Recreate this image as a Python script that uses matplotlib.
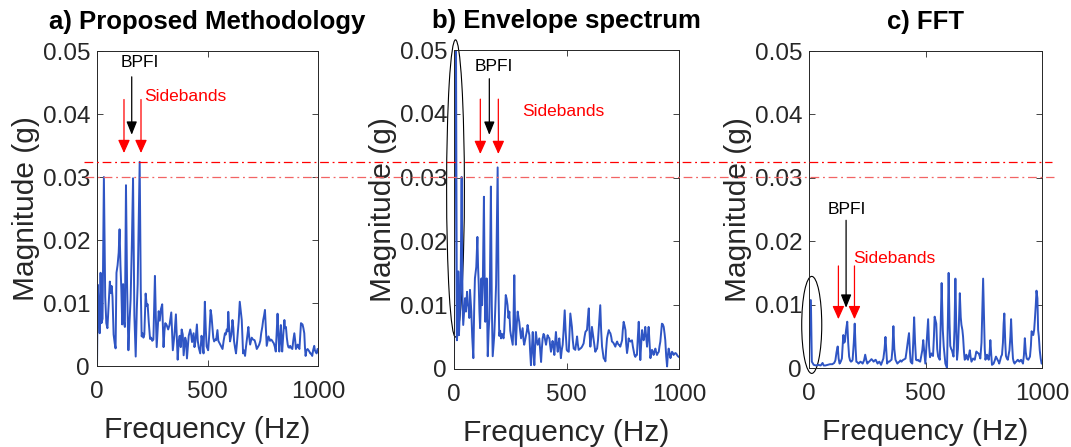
import matplotlib
matplotlib.use("Agg")
import matplotlib.pyplot as plt
import matplotlib.transforms as mtransforms
from matplotlib.lines import Line2D
from matplotlib.patches import Ellipse

plt.rcParams['font.family'] = ['Liberation Sans', 'DejaVu Sans']

# a) proposed methodology spectrum
freq_a = [0, 3, 8, 12, 16, 20, 25, 31, 37, 42, 47, 53, 58, 62, 66, 70, 75, 80, 84, 88,
          93, 98, 102, 106, 110, 114, 118, 122, 126, 131, 136, 142, 147, 152, 158, 163, 169, 175, 180, 184,
          193, 198, 202, 206, 210, 214, 220, 225, 229, 234, 240, 245, 250, 255, 262, 266, 270, 275, 279, 284,
          289, 295, 301, 305, 309, 315, 322, 328, 336, 343, 350, 357, 365, 370, 374, 379, 383, 388, 392, 399,
          403, 407, 415, 422, 426, 430, 437, 441, 445, 452, 456, 460, 467, 473, 478, 482, 488, 492, 496, 503,
          508, 514, 518, 522, 526, 530, 535, 539, 545, 549, 552, 556, 561, 568, 573, 579, 583, 587, 591, 594,
          598, 602, 608, 613, 617, 620, 625, 629, 633, 637, 641, 646, 651, 655, 658, 661, 665, 670, 674, 678,
          681, 685, 689, 693, 697, 700, 706, 713, 718, 723, 728, 734, 739, 743, 748, 752, 756, 760, 764, 768,
          772, 776, 780, 783, 787, 791, 796, 800, 805, 809, 817, 821, 825, 832, 835, 838, 843, 848, 851, 855,
          859, 863, 866, 870, 874, 878, 884, 888, 893, 897, 900, 904, 908, 912, 916, 920, 923, 930, 934, 938,
          941, 944, 948, 953, 957, 961, 965, 968, 974, 978, 983, 986, 990, 994, 998, 1000]
mag_a = [0.0, 0.0129, 0.0095, 0.0052, 0.0148, 0.0068, 0.0075, 0.0300, 0.0110, 0.0068,
         0.0060, 0.0100, 0.0134, 0.0116, 0.0127, 0.0110, 0.0050, 0.0036, 0.0028, 0.0148,
         0.0160, 0.0180, 0.0217, 0.0160, 0.0122, 0.0066, 0.0130, 0.0070, 0.0062, 0.0287,
         0.0129, 0.0025, 0.0070, 0.0106, 0.0200, 0.0298, 0.0080, 0.0015, 0.0090, 0.0130,
         0.0324, 0.0120, 0.0047, 0.0052, 0.0045, 0.0050, 0.0115, 0.0095, 0.0098, 0.0070,
         0.0043, 0.0045, 0.0040, 0.0042, 0.0143, 0.0080, 0.0030, 0.0060, 0.0087, 0.0072,
         0.0090, 0.0098, 0.0030, 0.0055, 0.0068, 0.0065, 0.0058, 0.0065, 0.0085, 0.0025,
         0.0048, 0.0082, 0.0010, 0.0040, 0.0048, 0.0030, 0.0058, 0.0050, 0.0017, 0.0045,
         0.0040, 0.0012, 0.0048, 0.0058, 0.0050, 0.0038, 0.0052, 0.0030, 0.0038, 0.0066,
         0.0040, 0.0030, 0.0020, 0.0048, 0.0035, 0.0020, 0.0102, 0.0060, 0.0031, 0.0025,
         0.0050, 0.0089, 0.0080, 0.0062, 0.0045, 0.0039, 0.0042, 0.0041, 0.0057, 0.0040,
         0.0038, 0.0035, 0.0032, 0.0027, 0.0040, 0.0052, 0.0050, 0.0058, 0.0055, 0.0086,
         0.0060, 0.0039, 0.0050, 0.0073, 0.0060, 0.0040, 0.0028, 0.0020, 0.0035, 0.0052,
         0.0070, 0.0102, 0.0085, 0.0073, 0.0045, 0.0020, 0.0025, 0.0016, 0.0030, 0.0041,
         0.0050, 0.0062, 0.0045, 0.0034, 0.0040, 0.0045, 0.0042, 0.0041, 0.0035, 0.0027,
         0.0030, 0.0034, 0.0040, 0.0052, 0.0062, 0.0073, 0.0080, 0.0089, 0.0060, 0.0032,
         0.0040, 0.0047, 0.0043, 0.0040, 0.0042, 0.0041, 0.0038, 0.0036, 0.0030, 0.0023,
         0.0083, 0.0050, 0.0023, 0.0065, 0.0040, 0.0023, 0.0050, 0.0073, 0.0060, 0.0062,
         0.0045, 0.0034, 0.0030, 0.0029, 0.0032, 0.0029, 0.0027, 0.0040, 0.0052, 0.0040,
         0.0027, 0.0030, 0.0034, 0.0030, 0.0027, 0.0050, 0.0068, 0.0066, 0.0060, 0.0052,
         0.0030, 0.0016, 0.0025, 0.0027, 0.0025, 0.0023, 0.0020, 0.0020, 0.0016, 0.0025,
         0.0032, 0.0025, 0.0022, 0.0020, 0.0027, 0.0027]

# b) envelope spectrum
freq_b = [0, 4, 9, 13, 16, 19, 22, 26, 30, 34, 38, 41, 45, 49, 53, 58, 61, 64, 68, 71,
          77, 81, 86, 90, 93, 99, 104, 107, 110, 113, 116, 119, 122, 125, 128, 133, 136, 139, 142, 145,
          150, 154, 157, 160, 164, 168, 172, 176, 179, 183, 187, 194, 198, 201, 205, 209, 213, 216, 220, 223,
          227, 230, 234, 238, 242, 246, 250, 253, 257, 261, 264, 268, 272, 275, 279, 283, 287, 290, 294, 298,
          301, 305, 309, 312, 316, 320, 324, 327, 331, 335, 338, 342, 346, 350, 353, 357, 360, 364, 368, 372,
          375, 379, 383, 387, 390, 394, 398, 401, 405, 409, 412, 416, 420, 424, 427, 431, 434, 438, 442, 446,
          449, 453, 457, 461, 464, 468, 472, 475, 479, 483, 487, 492, 496, 501, 505, 510, 514, 517, 521, 524,
          528, 532, 536, 539, 543, 547, 550, 554, 558, 561, 565, 569, 572, 576, 580, 584, 588, 591, 595, 599,
          602, 606, 610, 613, 617, 621, 625, 628, 632, 636, 640, 643, 647, 650, 654, 658, 662, 665, 669, 673,
          676, 680, 684, 688, 691, 695, 699, 702, 706, 710, 713, 717, 721, 725, 728, 732, 736, 739, 743, 747,
          750, 754, 758, 762, 765, 769, 773, 776, 780, 784, 788, 791, 795, 799, 802, 806, 810, 813, 817, 821,
          825, 828, 832, 836, 839, 843, 847, 850, 854, 858, 861, 865, 869, 873, 876, 880, 884, 887, 891, 895,
          898, 902, 906, 910, 913, 917, 921, 924, 928, 932, 936, 939, 943, 947, 950, 954, 958, 962, 965, 969,
          973, 976, 980, 984, 988, 991, 995, 999]
mag_b = [0.0005, 0.0498, 0.0498, 0.0045, 0.0060, 0.0153, 0.0053, 0.0090, 0.0150, 0.0301,
         0.0100, 0.0069, 0.0090, 0.0111, 0.0090, 0.0121, 0.0100, 0.0100, 0.0080, 0.0124,
         0.0090, 0.0050, 0.0017, 0.0100, 0.0142, 0.0160, 0.0207, 0.0160, 0.0132, 0.0090,
         0.0064, 0.0100, 0.0142, 0.0100, 0.0132, 0.0270, 0.0150, 0.0074, 0.0100, 0.0142,
         0.0020, 0.0060, 0.0079, 0.0150, 0.0286, 0.0100, 0.0020, 0.0040, 0.0053, 0.0090,
         0.0132, 0.0316, 0.0120, 0.0052, 0.0060, 0.0048, 0.0055, 0.0054, 0.0048, 0.0058,
         0.0090, 0.0116, 0.0110, 0.0100, 0.0080, 0.0090, 0.0060, 0.0053, 0.0045, 0.0038,
         0.0070, 0.0147, 0.0060, 0.0038, 0.0070, 0.0090, 0.0080, 0.0074, 0.0060, 0.0048,
         0.0055, 0.0064, 0.0045, 0.0038, 0.0045, 0.0053, 0.0060, 0.0069, 0.0060, 0.0053,
         0.0030, 0.0006, 0.0030, 0.0058, 0.0030, 0.0006, 0.0030, 0.0058, 0.0045, 0.0038,
         0.0042, 0.0048, 0.0030, 0.0011, 0.0030, 0.0048, 0.0055, 0.0053, 0.0045, 0.0038,
         0.0045, 0.0053, 0.0050, 0.0048, 0.0038, 0.0027, 0.0035, 0.0044, 0.0035, 0.0022,
         0.0040, 0.0058, 0.0040, 0.0027, 0.0038, 0.0048, 0.0030, 0.0017, 0.0030, 0.0038,
         0.0060, 0.0092, 0.0060, 0.0030, 0.0028, 0.0027, 0.0060, 0.0087, 0.0075, 0.0066,
         0.0045, 0.0032, 0.0031, 0.0030, 0.0040, 0.0051, 0.0040, 0.0030, 0.0031, 0.0032,
         0.0033, 0.0035, 0.0037, 0.0040, 0.0050, 0.0058, 0.0060, 0.0061, 0.0080, 0.0095,
         0.0060, 0.0035, 0.0050, 0.0066, 0.0055, 0.0045, 0.0035, 0.0027, 0.0030, 0.0032,
         0.0045, 0.0061, 0.0080, 0.0100, 0.0060, 0.0035, 0.0025, 0.0017, 0.0015, 0.0012,
         0.0030, 0.0048, 0.0055, 0.0061, 0.0058, 0.0056, 0.0050, 0.0043, 0.0042, 0.0040,
         0.0038, 0.0035, 0.0040, 0.0043, 0.0040, 0.0038, 0.0037, 0.0035, 0.0040, 0.0045,
         0.0060, 0.0074, 0.0068, 0.0061, 0.0040, 0.0025, 0.0035, 0.0048, 0.0045, 0.0043,
         0.0044, 0.0045, 0.0035, 0.0027, 0.0022, 0.0019, 0.0022, 0.0022, 0.0050, 0.0074,
         0.0040, 0.0014, 0.0040, 0.0061, 0.0050, 0.0045, 0.0055, 0.0066, 0.0050, 0.0035,
         0.0050, 0.0066, 0.0040, 0.0017, 0.0025, 0.0030, 0.0026, 0.0022, 0.0028, 0.0032,
         0.0027, 0.0022, 0.0025, 0.0027, 0.0035, 0.0043, 0.0060, 0.0071, 0.0070, 0.0066,
         0.0055, 0.0045, 0.0020, 0.0004, 0.0020, 0.0032, 0.0025, 0.0017, 0.0022, 0.0027,
         0.0025, 0.0022, 0.0024, 0.0025, 0.0024, 0.0022, 0.0020, 0.0019]

# c) plain FFT
freq_c = [0, 4, 8, 12, 20, 30, 40, 50, 58, 63, 70, 80, 90, 100, 108, 113, 118, 123, 127, 131,
          136, 141, 147, 151, 154, 159, 164, 168, 172, 176, 180, 184, 187, 192, 196, 200, 203, 208, 212, 216,
          220, 225, 230, 236, 241, 246, 250, 254, 258, 263, 268, 273, 277, 282, 286, 290, 294, 298, 302, 306,
          309, 314, 319, 324, 328, 332, 335, 340, 345, 350, 354, 358, 362, 366, 371, 375, 379, 384, 388, 392,
          397, 401, 405, 410, 414, 418, 421, 425, 429, 433, 436, 440, 443, 447, 451, 455, 459, 464, 468, 472,
          477, 481, 486, 490, 494, 499, 503, 507, 511, 515, 519, 522, 525, 529, 532, 536, 539, 543, 546, 550,
          554, 558, 561, 565, 569, 574, 578, 582, 585, 589, 592, 596, 599, 603, 606, 610, 613, 617, 620, 624,
          628, 632, 635, 639, 643, 647, 651, 654, 658, 661, 665, 668, 672, 675, 679, 682, 686, 690, 693, 697,
          701, 704, 708, 711, 715, 718, 723, 728, 731, 735, 740, 744, 747, 751, 754, 757, 760, 764, 767, 771,
          775, 778, 782, 785, 789, 792, 797, 802, 806, 809, 813, 816, 820, 824, 828, 832, 835, 838, 842, 845,
          849, 853, 856, 860, 864, 867, 871, 875, 878, 882, 885, 889, 893, 896, 900, 903, 907, 910, 914, 918,
          922, 926, 930, 934, 937, 941, 944, 948, 952, 955, 959, 962, 966, 969, 973, 976, 980, 983, 986, 990,
          994, 998, 1000]
mag_c = [0.0003, 0.0107, 0.0107, 0.0010, 0.0005, 0.0004, 0.0005, 0.0004, 0.0008, 0.0004,
         0.0004, 0.0005, 0.0006, 0.0006, 0.0008, 0.0012, 0.0025, 0.0034, 0.0015, 0.0007,
         0.0010, 0.0015, 0.0052, 0.0040, 0.0042, 0.0060, 0.0073, 0.0040, 0.0018, 0.0012,
         0.0010, 0.0011, 0.0013, 0.0040, 0.0070, 0.0030, 0.0010, 0.0009, 0.0007, 0.0008,
         0.0010, 0.0009, 0.0007, 0.0012, 0.0021, 0.0012, 0.0007, 0.0009, 0.0010, 0.0012,
         0.0014, 0.0012, 0.0010, 0.0012, 0.0013, 0.0010, 0.0007, 0.0009, 0.0010, 0.0007,
         0.0005, 0.0010, 0.0015, 0.0030, 0.0049, 0.0025, 0.0007, 0.0010, 0.0010, 0.0012,
         0.0013, 0.0030, 0.0066, 0.0030, 0.0013, 0.0010, 0.0007, 0.0009, 0.0010, 0.0012,
         0.0010, 0.0012, 0.0013, 0.0014, 0.0015, 0.0025, 0.0034, 0.0045, 0.0055, 0.0025,
         0.0010, 0.0008, 0.0007, 0.0040, 0.0080, 0.0040, 0.0013, 0.0012, 0.0013, 0.0011,
         0.0010, 0.0018, 0.0028, 0.0044, 0.0028, 0.0007, 0.0030, 0.0055, 0.0077, 0.0035,
         0.0017, 0.0020, 0.0023, 0.0020, 0.0019, 0.0050, 0.0081, 0.0075, 0.0070, 0.0030,
         0.0018, 0.0015, 0.0013, 0.0070, 0.0134, 0.0060, 0.0034, 0.0018, 0.0007, 0.0003,
         0.0000, 0.0080, 0.0150, 0.0070, 0.0035, 0.0030, 0.0028, 0.0022, 0.0018, 0.0060,
         0.0141, 0.0060, 0.0013, 0.0030, 0.0070, 0.0118, 0.0080, 0.0068, 0.0060, 0.0049,
         0.0025, 0.0013, 0.0015, 0.0021, 0.0015, 0.0013, 0.0020, 0.0028, 0.0018, 0.0010,
         0.0013, 0.0015, 0.0014, 0.0013, 0.0020, 0.0026, 0.0024, 0.0023, 0.0020, 0.0015,
         0.0040, 0.0100, 0.0141, 0.0080, 0.0030, 0.0013, 0.0018, 0.0021, 0.0016, 0.0013,
         0.0025, 0.0044, 0.0020, 0.0005, 0.0006, 0.0007, 0.0012, 0.0018, 0.0015, 0.0013,
         0.0010, 0.0007, 0.0012, 0.0018, 0.0021, 0.0040, 0.0070, 0.0086, 0.0040, 0.0019,
         0.0015, 0.0013, 0.0020, 0.0028, 0.0050, 0.0077, 0.0040, 0.0015, 0.0010, 0.0007,
         0.0009, 0.0010, 0.0012, 0.0013, 0.0011, 0.0010, 0.0012, 0.0013, 0.0010, 0.0007,
         0.0020, 0.0047, 0.0025, 0.0015, 0.0014, 0.0013, 0.0015, 0.0018, 0.0035, 0.0058,
         0.0055, 0.0052, 0.0060, 0.0076, 0.0100, 0.0122, 0.0110, 0.0060, 0.0050, 0.0028,
         0.0015, 0.0007, 0.0007]

titles = ["a) Proposed Methodology", "b) Envelope spectrum", "c) FFT"]
thresholds = [0.0324, 0.0300]

line_blue = "#2f55c4"
axis_grey = "#262626"

fig = plt.figure(figsize=(10.71, 4.47), dpi=100)
ax_a = fig.add_axes([0.0906, 0.1812, 0.2063, 0.7047])
ax_b = fig.add_axes([0.4239, 0.1745, 0.2101, 0.7136])
ax_c = fig.add_axes([0.7554, 0.1767, 0.2176, 0.7092])
axes = [ax_a, ax_b, ax_c]

for ax, f, m in zip(axes, [freq_a, freq_b, freq_c], [mag_a, mag_b, mag_c]):
    ax.plot(f, m, color=line_blue, lw=1.4)

for ax, title in zip(axes, titles):
    ax.set_xlim(0, 1000)
    ax.set_ylim(0, 0.05)
    ax.set_xticks([0, 500, 1000])
    ax.set_xticklabels(["0", "500", "1000"])
    ax.set_yticks([0, 0.01, 0.02, 0.03, 0.04, 0.05])
    ax.set_yticklabels(["0", "0.01", "0.02", "0.03", "0.04", "0.05"])
    ax.tick_params(direction="in", top=True, right=True, length=4, width=0.6,
                   labelsize=17.5, colors=axis_grey, labelcolor=axis_grey)
    ax.tick_params(axis="x", pad=11)
    ax.tick_params(axis="y", pad=5)
    for s in ax.spines.values():
        s.set_color(axis_grey)
        s.set_linewidth(0.7)
    ax.set_xlabel("Frequency (Hz)", fontsize=21.5, color=axis_grey, labelpad=9)
    ax.set_ylabel("Magnitude (g)", fontsize=21.5, color=axis_grey, labelpad=2)
    ax.set_title(title, fontsize=18.5, fontweight="bold", pad=16)


def arrows(ax, bpfi, sides, top, tip, bpfi_top, bpfi_tip):
    ax.annotate("", xy=(bpfi, bpfi_tip), xytext=(bpfi, bpfi_top),
                arrowprops=dict(arrowstyle="-|>,head_length=0.8,head_width=0.32",
                                color="black", lw=0.9, shrinkA=0, shrinkB=0))
    for s in sides:
        ax.annotate("", xy=(s, tip), xytext=(s, top),
                    arrowprops=dict(arrowstyle="-|>,head_length=0.8,head_width=0.36",
                                    color="red", lw=0.9, shrinkA=0, shrinkB=0))


# a)
arrows(ax_a, 157, [122, 199], 0.0423, 0.0338, 0.0459, 0.0367)
ax_a.text(195, 0.0481, "BPFI", fontsize=12.5, ha="center", va="center")
ax_a.text(214, 0.0427, "Sidebands", fontsize=12.5, color="red", ha="left", va="center")

# b)
arrows(ax_b, 157, [117, 197], 0.0423, 0.0337, 0.0455, 0.0367)
ax_b.text(176, 0.0474, "BPFI", fontsize=12.5, ha="center", va="center")
ax_b.text(301, 0.0403, "Sidebands", fontsize=12.5, color="red", ha="left", va="center")
ax_b.add_patch(Ellipse((6.7, 0.0283), 79, 0.0466, fill=False, ec="black", lw=0.8, clip_on=False))

# c)
arrows(ax_c, 159, [126, 195], 0.0161, 0.0077, 0.0233, 0.0095)
ax_c.text(162, 0.0250, "BPFI", fontsize=12.5, ha="center", va="center")
ax_c.text(190, 0.0173, "Sidebands", fontsize=12.5, color="red", ha="left", va="center")
ax_c.add_patch(Ellipse((11.6, 0.0068), 86, 0.0153, fill=False, ec="black", lw=0.8, clip_on=False))

# threshold lines across all panels
trans = mtransforms.blended_transform_factory(fig.transFigure, ax_a.transData)
fig.add_artist(Line2D([0.078, 0.982], [thresholds[0]] * 2, transform=trans,
                      color="#ff0000", lw=0.9, ls=(0, (7, 3, 1.5, 3))))
fig.add_artist(Line2D([0.079, 0.984], [thresholds[1]] * 2, transform=trans,
                      color="#f26464", lw=0.9, ls=(0, (7, 3, 1.5, 3))))

fig.savefig("out.png", dpi=100)
plt.close(fig)
